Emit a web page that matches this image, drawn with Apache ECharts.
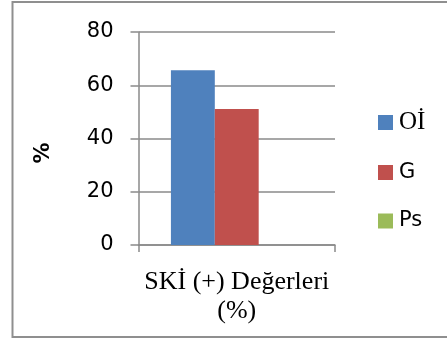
<!DOCTYPE html>
<html>
<head>
<meta charset="utf-8">
<script src="https://cdn.jsdelivr.net/npm/echarts@6/dist/echarts.min.js"></script>
<style>
  html, body { margin: 0; padding: 0; background: #ffffff; }
  #chart { width: 447px; height: 339px; }
</style>
</head>
<body>
<div id="chart"></div>
<script>
// Chart data
const categories = ['SKİ (+) Değerleri\n(%)'];
const seriesNames = ['Oİ', 'G', 'Ps'];
const valuesOI = [65.6];
const valuesG = [51.1];
const valuesPs = [0];
const yTicks = { min: 0, max: 80, interval: 20 };
const colors = ['#4F81BD', '#C0504D', '#9BBB59'];

const axisGray = '#8a8a8a';
const serif = 'Liberation Serif';
const sans = 'DejaVu Sans';
const chart = echarts.init(document.getElementById('chart'), null, { renderer: 'canvas' });

const seriesValues = [valuesOI, valuesG, valuesPs];

chart.setOption({
  animation: false,
  backgroundColor: '#ffffff',
  color: colors,
  grid: { left: 138.5, right: 112, top: 32, bottom: 94, containLabel: false },
  graphic: [
    {
      type: 'polyline',
      silent: true,
      shape: { points: [[460, 2], [12.5, 2], [12.5, 337], [460, 337]] },
      style: { stroke: '#8f8f8f', lineWidth: 2, fill: null }
    },
    {
      type: 'text',
      silent: true,
      x: 44,
      y: 153,
      rotation: Math.PI / 2,
      style: {
        text: '%',
        fontFamily: sans,
        fontWeight: 'bold',
        fontSize: 21,
        fill: '#000000',
        align: 'center',
        verticalAlign: 'middle'
      }
    }
  ],
  legend: {
    orient: 'vertical',
    left: 378,
    top: 110,
    padding: 0,
    itemWidth: 15,
    itemHeight: 15,
    itemGap: 26.5,
    icon: 'rect',
    data: seriesNames.map(function (name, i) {
      return {
        name: name,
        textStyle: i === 0
          ? { fontFamily: serif, fontSize: 25, color: '#000', lineHeight: 22 }
          : { fontFamily: sans, fontSize: 21, color: '#000', lineHeight: 22 }
      };
    }),
    textStyle: { padding: [0, 0, 0, 1] }
  },
  xAxis: {
    type: 'category',
    data: categories,
    axisLine: { lineStyle: { color: axisGray, width: 1.5 } },
    axisTick: { show: true, length: 7, lineStyle: { color: axisGray, width: 1.5 } },
    axisLabel: {
      margin: 23,
      fontFamily: serif,
      fontSize: 26,
      lineHeight: 29,
      color: '#000000',
      align: 'center'
    }
  },
  yAxis: {
    type: 'value',
    min: yTicks.min,
    max: yTicks.max,
    interval: yTicks.interval,
    axisLine: { show: true, lineStyle: { color: axisGray, width: 1.5 } },
    axisTick: { show: true, length: 8, lineStyle: { color: axisGray, width: 1.5 } },
    splitLine: { show: true, lineStyle: { color: axisGray, width: 1.5 } },
    axisLabel: {
      margin: 25,
      fontFamily: sans,
      fontSize: 21,
      color: '#000000'
    }
  },
  series: seriesNames.map(function (name, i) {
    return {
      name: name,
      type: 'bar',
      data: seriesValues[i],
      barGap: '0%',
      barCategoryGap: '33%',
      itemStyle: { color: colors[i] }
    };
  })
});
</script>
</body>
</html>
